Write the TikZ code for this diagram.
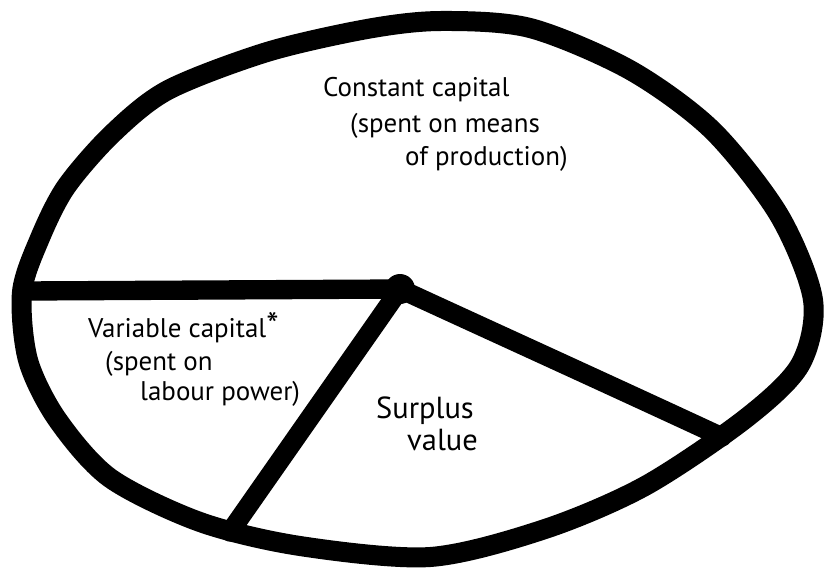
\documentclass[tikz,border=0pt]{standalone}
\usepackage{fontspec}
\setmainfont{PT Sans}
\usetikzlibrary{positioning}
\tikzset{
    rim/.style={line width=0.6cm, line cap=round, line join=round, draw=black},
    spoke/.style={line width=0.58cm, line cap=round, draw=black},
    hand/.style={font=\fontsize{23}{25}\selectfont, inner sep=0pt, anchor=base west},
    bighand/.style={hand, font=\fontsize{26}{28}\selectfont},
}
\begin{document}
\begin{tikzpicture}[x=0.03cm, y=-0.03cm]
    \useasboundingbox (0,0) rectangle (824,579);
    % joints on the rim and the hub
    \coordinate (hub) at (400,289);
    \coordinate (lj) at (24,291);
    \coordinate (bj) at (230,532);
    \coordinate (rj) at (722,437);
    % the lopsided rim
    \draw[rim] plot[smooth cycle, tension=0.5] coordinates {
        (22,292) (40,238) (66,187) (112,134) (168,90) (267,52) (367,29)
        (440,21) (530,28) (630,70) (712,130) (779,215) (813,300)
        (800,365) (745,419) (645,486) (545,529) (430,557) (300,546)
        (200,522) (110,478) (57,419) (28,360)};
    % the three dividing strokes
    \draw[spoke] (lj) -- (hub);
    \draw[spoke] (hub) -- (bj);
    \draw[spoke] (hub) .. controls (500,335) and (610,385) .. (rj);
    \fill (hub) circle (15);
    % labels
    \node[hand] (cc1) at (323,96) {Constant capital};
    \node[hand] (cc2) at (350,132) {(spent on means};
    \node[hand] (cc3) at (405,165) {of production)};
    \node[hand] (vc1) at (88,337) {Variable capital{\fontsize{30}{30}\selectfont*}};
    \node[hand] (vc2) at (105,370) {(spent on};
    \node[hand] (vc3) at (140,400) {labour power)};
    \node[bighand] (sv1) at (376,418) {Surplus};
    \node[bighand] (sv2) at (407,450) {value};
\end{tikzpicture}
\end{document}
